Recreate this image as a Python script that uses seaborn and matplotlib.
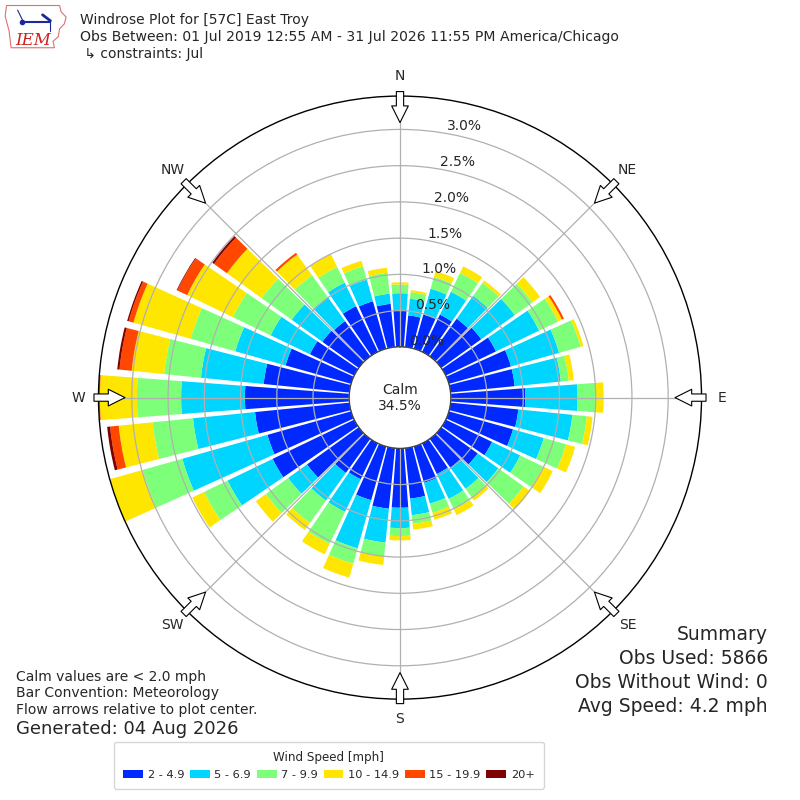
import numpy as np
import matplotlib
matplotlib.use("Agg")
import matplotlib.pyplot as plt
import seaborn as sns
from matplotlib.patches import Circle, Polygon

# wind direction (deg, meteorological) and percent frequency per speed bin
directions = np.arange(0, 360, 10)
speed_bins = ["2 - 4.9", "5 - 6.9", "7 - 9.9", "10 - 14.9", "15 - 19.9", "20+"]

pct_2_5 = [0.51, 0.44, 0.49, 0.57, 0.64, 0.68, 0.77, 0.89, 0.89, 1.03, 0.94, 0.92,
           0.71, 0.62, 0.49, 0.47, 0.52, 0.70, 0.82, 0.84, 0.77, 0.55, 0.58, 0.88,
           1.25, 1.20, 1.31, 1.44, 1.19, 0.94, 0.68, 0.62, 0.60, 0.70, 0.68, 0.60]
pct_5_7 = [0.23, 0.23, 0.37, 0.35, 0.39, 0.57, 0.66, 0.69, 0.64, 0.72, 0.75, 0.44,
           0.43, 0.35, 0.36, 0.38, 0.30, 0.23, 0.28, 0.47, 0.69, 0.50, 0.47, 0.32,
           0.69, 1.22, 0.86, 0.88, 0.87, 0.72, 0.60, 0.52, 0.41, 0.36, 0.31, 0.14]
pct_7_10 = [0.12, 0.09, 0.17, 0.29, 0.22, 0.30, 0.29, 0.31, 0.11, 0.25, 0.20, 0.32,
            0.35, 0.43, 0.15, 0.16, 0.13, 0.12, 0.11, 0.19, 0.22, 0.49, 0.38, 0.38,
            0.36, 0.57, 0.56, 0.61, 0.51, 0.64, 0.58, 0.51, 0.37, 0.24, 0.19, 0.29]
pct_10_15 = [0.03, 0.03, 0.08, 0.10, 0.04, 0.13, 0.06, 0.04, 0.07, 0.11, 0.08, 0.13,
             0.15, 0.11, 0.05, 0.09, 0.10, 0.08, 0.06, 0.12, 0.20, 0.16, 0.12, 0.17,
             0.18, 0.48, 0.47, 0.51, 0.45, 0.82, 0.70, 0.59, 0.35, 0.20, 0.08, 0.07]
pct_15_20 = [0, 0, 0, 0, 0, 0, 0.03, 0, 0, 0, 0, 0,
             0, 0, 0, 0, 0, 0, 0, 0, 0, 0, 0, 0,
             0, 0, 0.12, 0.04, 0.17, 0.07, 0.15, 0.22, 0.03, 0, 0, 0]
pct_20 = [0, 0, 0, 0, 0, 0, 0, 0, 0, 0, 0, 0,
          0, 0, 0, 0, 0, 0, 0, 0, 0, 0, 0, 0,
          0, 0, 0.04, 0.02, 0.03, 0.02, 0.01, 0.03, 0, 0, 0, 0]

calm_pct = 34.5
ring_ticks = [0.0, 0.5, 1.0, 1.5, 2.0, 2.5, 3.0]
compass = ["N", "NE", "E", "SE", "S", "SW", "W", "NW"]

sns.set_style("white")
plt.rcParams["font.family"] = ["DejaVu Sans"]

colors = sns.color_palette([plt.get_cmap("jet")(v) for v in np.linspace(0, 1, 7)[1:]])

fig = plt.figure(figsize=(8, 8), dpi=100)
ax = fig.add_axes([0.1231, 0.1261, 0.7538, 0.7538], projection="polar")
ax.set_theta_zero_location("N")
ax.set_theta_direction(-1)

rmax = 3.46
rorigin = -0.70
theta = np.radians(directions)
bottom = np.zeros(len(directions))
series = [pct_2_5, pct_5_7, pct_7_10, pct_10_15, pct_15_20, pct_20]
for vals, col, lab in zip(series, colors, speed_bins):
    vals = np.array(vals)
    ax.bar(theta, vals, width=np.radians(8.6), bottom=bottom, color=col,
           linewidth=0, label=lab, zorder=1)
    bottom = bottom + vals

ax.set_ylim(0, rmax)
ax.set_rorigin(rorigin)
ax.set_axisbelow(False)
ax.set_yticks(ring_ticks)
ax.set_yticklabels([f"{v:.1f}%" for v in ring_ticks], fontsize=10)
ax.set_rlabel_position(10)
ax.set_xticks(np.radians(np.arange(0, 360, 45)))
ax.set_xticklabels(compass, fontsize=10)
ax.tick_params(axis="x", pad=4)
ax.grid(True, color="#b0b0b0", linewidth=0.9)
ax.spines["polar"].set_color("black")
ax.spines["polar"].set_linewidth(1.0)

# calm circle
ax.add_patch(Circle((0.5, 0.5), 50.5 / 603, transform=ax.transAxes,
                    facecolor="white", edgecolor="black", linewidth=1.0, zorder=5))
ax.text(0.5, 0.5, f"Calm\n{calm_pct}%", transform=ax.transAxes, ha="center",
        va="center", fontsize=10, zorder=6)

# flow arrows
scale = (rmax - rorigin) / 301.5
for ang in np.arange(0, 360, 45):
    t = np.radians(ang)
    ax.annotate("", xy=(t, rorigin + 275 * scale), xytext=(t, rorigin + 306 * scale),
                arrowprops=dict(arrowstyle="simple,head_length=0.8,head_width=0.8,tail_width=0.35",
                                fc="white", ec="black", lw=0.8, shrinkA=0, shrinkB=0,
                                mutation_scale=15),
                annotation_clip=False, zorder=7)

# header
fig.text(80 / 800, 1 - 20 / 800, "Windrose Plot for [57C] East Troy", fontsize=10, va="center")
fig.text(80 / 800, 1 - 37 / 800,
         "Obs Between: 01 Jul 2019 12:55 AM - 31 Jul 2026 11:55 PM America/Chicago",
         fontsize=10.1, va="center")
fig.text(80 / 800, 1 - 54 / 800, " \u21b3 constraints: Jul", fontsize=10, va="center")

# IEM logo (rough)
lax = fig.add_axes([0.004, 0.938, 0.082, 0.058])
lax.set_xlim(0, 1)
lax.set_ylim(0, 1)
lax.axis("off")
outline = [(0.05, 0.95), (0.86, 0.95), (0.88, 0.82), (0.96, 0.70), (0.93, 0.55),
           (0.86, 0.45), (0.84, 0.28), (0.76, 0.18), (0.78, 0.04), (0.12, 0.04),
           (0.09, 0.40), (0.03, 0.72)]
lax.add_patch(Polygon(outline, closed=True, fill=False, edgecolor="#e07070", linewidth=0.8))
lax.text(0.18, 0.2, "IEM", color="#cc2020", fontsize=12, family="DejaVu Serif",
         style="italic", va="center")
lax.plot([0.28, 0.72], [0.6, 0.6], color="#1a2a9a", lw=1.5)
lax.plot([0.28], [0.6], "o", color="#1a2a9a", ms=3)
lax.plot([0.22, 0.3], [0.85, 0.62], color="#1a2a9a", lw=0.8)
lax.plot([0.6, 0.72], [0.75, 0.62], color="#1a2a9a", lw=2)
lax.plot([0.72, 0.72], [0.62, 0.4], color="#1a2a9a", lw=0.8)

# footer notes
fig.text(16 / 800, 1 - 677 / 800, "Calm values are < 2.0 mph", fontsize=10, va="center")
fig.text(16 / 800, 1 - 693 / 800, "Bar Convention: Meteorology", fontsize=10, va="center")
fig.text(16 / 800, 1 - 710 / 800, "Flow arrows relative to plot center.", fontsize=10, va="center")
fig.text(16 / 800, 1 - 729 / 800, "Generated: 04 Aug 2026", fontsize=13, va="center")

summary = ["Summary", "Obs Used: 5866", "Obs Without Wind: 0", "Avg Speed: 4.2 mph"]
for i, line in enumerate(summary):
    fig.text(768 / 800, 1 - (635 + 23.7 * i) / 800, line, fontsize=13.5, ha="right", va="center")

handles, labels = ax.get_legend_handles_labels()
fig.legend(handles, labels, loc="lower center", bbox_to_anchor=(0.411, 0.007), ncol=6,
           title="Wind Speed [mph]", fontsize=8.2, title_fontsize=8.6,
           frameon=True, handlelength=1.75, handletextpad=0.4, columnspacing=0.5,
           borderpad=0.8)

fig.savefig("out.png", dpi=100)
